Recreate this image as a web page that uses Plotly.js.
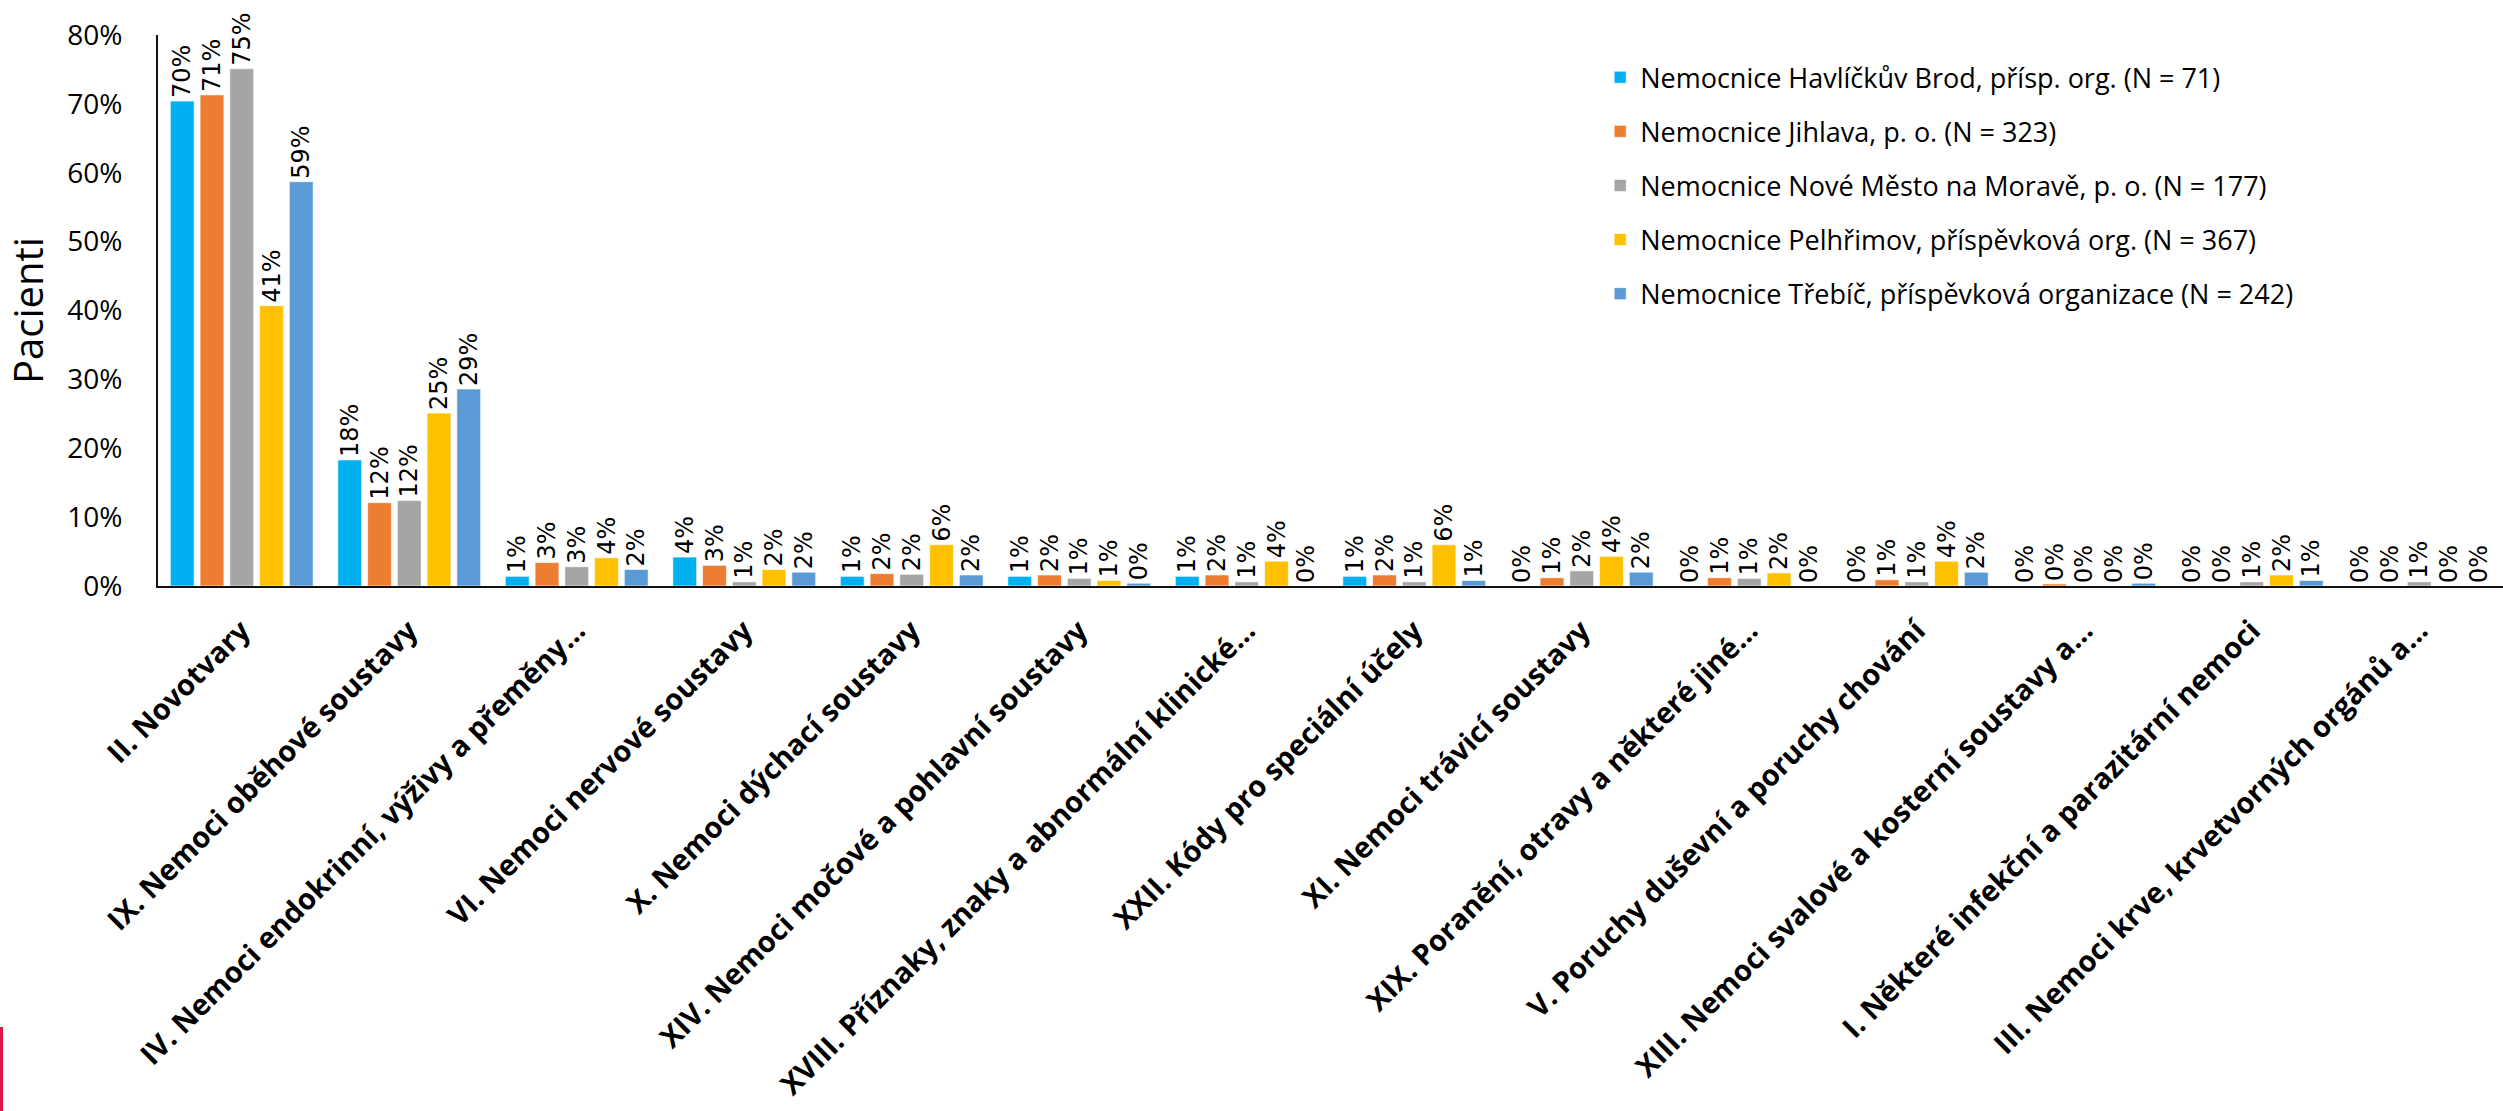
<!DOCTYPE html>
<html>
<head>
<meta charset="utf-8">
<script src="https://cdn.plot.ly/plotly-3.0.1.min.js"></script>
<style>
  html, body { margin: 0; padding: 0; background: #ffffff; }
  #chart { width: 2503px; height: 1111px; }
</style>
</head>
<body>
<div id="chart"></div>
<script>
const categories = [
  "II. Novotvary",
  "IX. Nemoci oběhové soustavy",
  "IV. Nemoci endokrinní, výživy a přeměny…",
  "VI. Nemoci nervové soustavy",
  "X. Nemoci dýchací soustavy",
  "XIV. Nemoci močové a pohlavní soustavy",
  "XVIII. Příznaky, znaky a abnormální klinické…",
  "XXII. Kódy pro speciální účely",
  "XI. Nemoci trávicí soustavy",
  "XIX. Poranění, otravy a některé jiné…",
  "V. Poruchy duševní a poruchy chování",
  "XIII. Nemoci svalové a kosterní soustavy a…",
  "I. Některé infekční a parazitární nemoci",
  "III. Nemoci krve, krvetvorných orgánů a…"
];

const seriesNames = [
  "Nemocnice Havlíčkův Brod, přísp. org. (N = 71)",
  "Nemocnice Jihlava, p. o. (N = 323)",
  "Nemocnice Nové Město na Moravě, p. o. (N = 177)",
  "Nemocnice Pelhřimov, příspěvková org. (N = 367)",
  "Nemocnice Třebíč, příspěvková organizace (N = 242)"
];

const havlickuvBrod = [0.704, 0.183, 0.014, 0.042, 0.014, 0.014, 0.014, 0.014, 0, 0, 0, 0, 0, 0];
const jihlava       = [0.713, 0.121, 0.034, 0.030, 0.018, 0.016, 0.016, 0.016, 0.012, 0.012, 0.009, 0.003, 0, 0];
const noveMesto     = [0.751, 0.124, 0.028, 0.006, 0.017, 0.011, 0.006, 0.006, 0.022, 0.011, 0.006, 0, 0.006, 0.006];
const pelhrimov     = [0.407, 0.251, 0.041, 0.024, 0.060, 0.008, 0.036, 0.060, 0.043, 0.019, 0.036, 0, 0.016, 0];
const trebic        = [0.587, 0.286, 0.024, 0.020, 0.016, 0.004, 0, 0.008, 0.020, 0, 0.020, 0.004, 0.008, 0];

const seriesValues = [havlickuvBrod, jihlava, noveMesto, pelhrimov, trebic];
const seriesColors = ["#00B0F0", "#ED7D31", "#A5A5A5", "#FFC000", "#5B9BD5"];

const traces = seriesNames.map((name, i) => ({
  type: "bar",
  name: name,
  legendgroup: "g" + i,
  x: categories,
  y: seriesValues[i],
  marker: { color: seriesColors[i], line: { color: "rgba(255,255,255,0.6)", width: 1 } },
  texttemplate: "%{y:.0%}",
  textposition: "outside",
  textangle: -90,
  constraintext: "none",
  cliponaxis: false,
  textfont: { family: "DejaVu Sans", size: 24, color: "#000000" },
  hoverinfo: "x+y+name"
}));

const layout = {
  width: 2503,
  height: 1111,
  paper_bgcolor: "#ffffff",
  plot_bgcolor: "#ffffff",
  margin: { l: 158, r: 0, t: 35, b: 525, pad: 0 },
  barmode: "group",
  bargap: 0.112,
  bargroupgap: 0.2,
  showlegend: true,
  legend: {
    xref: "paper", yref: "paper",
    x: 0.615, y: 0.967,
    xanchor: "left", yanchor: "top",
    font: { family: "Open Sans", size: 27, color: "#000000" },
    tracegroupgap: 16,
    traceorder: "grouped",
    bgcolor: "rgba(255,255,255,0)"
  },
  xaxis: {
    type: "category",
    tickangle: -45,
    tickfont: { family: "Open Sans", size: 29, color: "#000000", weight: "bold" },
    showline: true, linecolor: "#111111", linewidth: 2,
    ticks: "", showgrid: false, zeroline: false,
    ticklabelstandoff: 14,
    automargin: false
  },
  yaxis: {
    range: [0, 0.8],
    dtick: 0.1,
    tickformat: ".0%",
    tickfont: { family: "Open Sans", size: 28, color: "#000000" },
    showline: true, linecolor: "#111111", linewidth: 2,
    ticks: "", showgrid: false, zeroline: false,
    ticklabelstandoff: 28,
    automargin: false,
    title: { text: "Pacienti", font: { family: "Open Sans", size: 40, color: "#000000" }, standoff: 14 }
  },
  shapes: [{
    type: "rect", xref: "paper", yref: "paper",
    x0: -158 / 2345, x1: -155 / 2345,
    y0: -525 / 551, y1: -441 / 551,
    fillcolor: "#E0184A", line: { width: 0 }, layer: "above"
  }]
};

Plotly.newPlot("chart", traces, layout, { displayModeBar: false, staticPlot: true });
</script>
</body>
</html>
